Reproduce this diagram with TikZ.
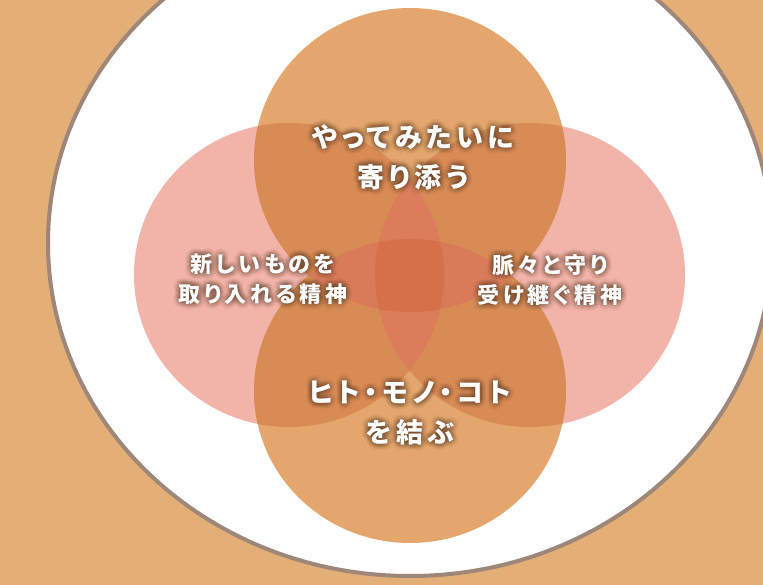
\documentclass[tikz,border=0pt]{standalone}
\usepackage{fontspec}
\newfontfamily\jpfont{Noto Sans CJK JP}[RawFeature=+palt]
\definecolor{bgc}{HTML}{E3AF77}
\definecolor{ringc}{HTML}{9E8678}
\definecolor{orangec}{HTML}{E4A66C}
\definecolor{pinkc}{HTML}{F2B3A9}
\definecolor{opc}{HTML}{D98B55}
\definecolor{lensc}{HTML}{DB7D5B}
\definecolor{bandc}{HTML}{D97B58}
\definecolor{centerc}{HTML}{D5704A}
\definecolor{glowc}{HTML}{5E3F28}
\def\Tp{(410,160) ellipse [x radius=156pt, y radius=152pt]}
\def\Bp{(410,391) ellipse [x radius=156pt, y radius=152pt]}
\def\Lp{(289,275) ellipse [x radius=155pt, y radius=152pt]}
\def\Rp{(530,275) ellipse [x radius=155pt, y radius=152pt]}
\newcommand\glowlabel[5]{%
  \foreach \gr in {1.5,3,4.5,6}{\foreach \ga in {0,30,...,330}{%
    \node[#2, text=glowc, text opacity=0.045, shift={(\ga:\gr pt)}] at (#3,#4) {#5};}}
  \node[#2] (#1) at (#3,#4) {#5};}
\begin{document}
\begin{tikzpicture}[x=1pt,y=-1pt,
  bigtxt/.style={font=\jpfont\bfseries\fontsize{27}{40}\selectfont\addfontfeatures{LetterSpace=17}, align=center, text=white, inner sep=0pt},
  smalltxt/.style={font=\jpfont\bfseries\fontsize{22}{30}\selectfont\addfontfeatures{LetterSpace=16}, align=center, text=white, inner sep=0pt}]
\useasboundingbox (0,0) rectangle (763,585);
\fill[bgc] (0,0) rectangle (763,585);
\filldraw[fill=white, draw=ringc, line width=4pt] (410,243) ellipse [x radius=362pt, y radius=333pt];
% pink circles
\fill[pinkc] \Lp;
\fill[pinkc] \Rp;
% orange circles
\fill[orangec] \Tp;
\fill[orangec] \Bp;
% orange over one pink
\begin{scope}\clip \Lp; \fill[opc] \Tp; \fill[opc] \Bp; \end{scope}
\begin{scope}\clip \Rp; \fill[opc] \Tp; \fill[opc] \Bp; \end{scope}
% orange over both pinks
\begin{scope}\clip \Lp; \clip \Rp; \fill[lensc] \Tp; \fill[lensc] \Bp; \end{scope}
% both oranges over a pink
\begin{scope}\clip \Tp; \clip \Bp; \fill[bandc] \Lp; \fill[bandc] \Rp; \end{scope}
% all four
\begin{scope}\clip \Tp; \clip \Bp; \clip \Lp; \fill[centerc] \Rp; \end{scope}
% labels
\glowlabel{top}{bigtxt}{413}{157}{やってみたいに\\寄り添う}
\glowlabel{left}{smalltxt}{263}{279}{新しいものを\\取り入れる精神}
\glowlabel{right}{smalltxt}{550}{280}{脈々と守り\\受け継ぐ精神}
\glowlabel{bottom}{bigtxt}{410}{413}{ヒト・モノ・コト\\を結ぶ}
\end{tikzpicture}
\end{document}
